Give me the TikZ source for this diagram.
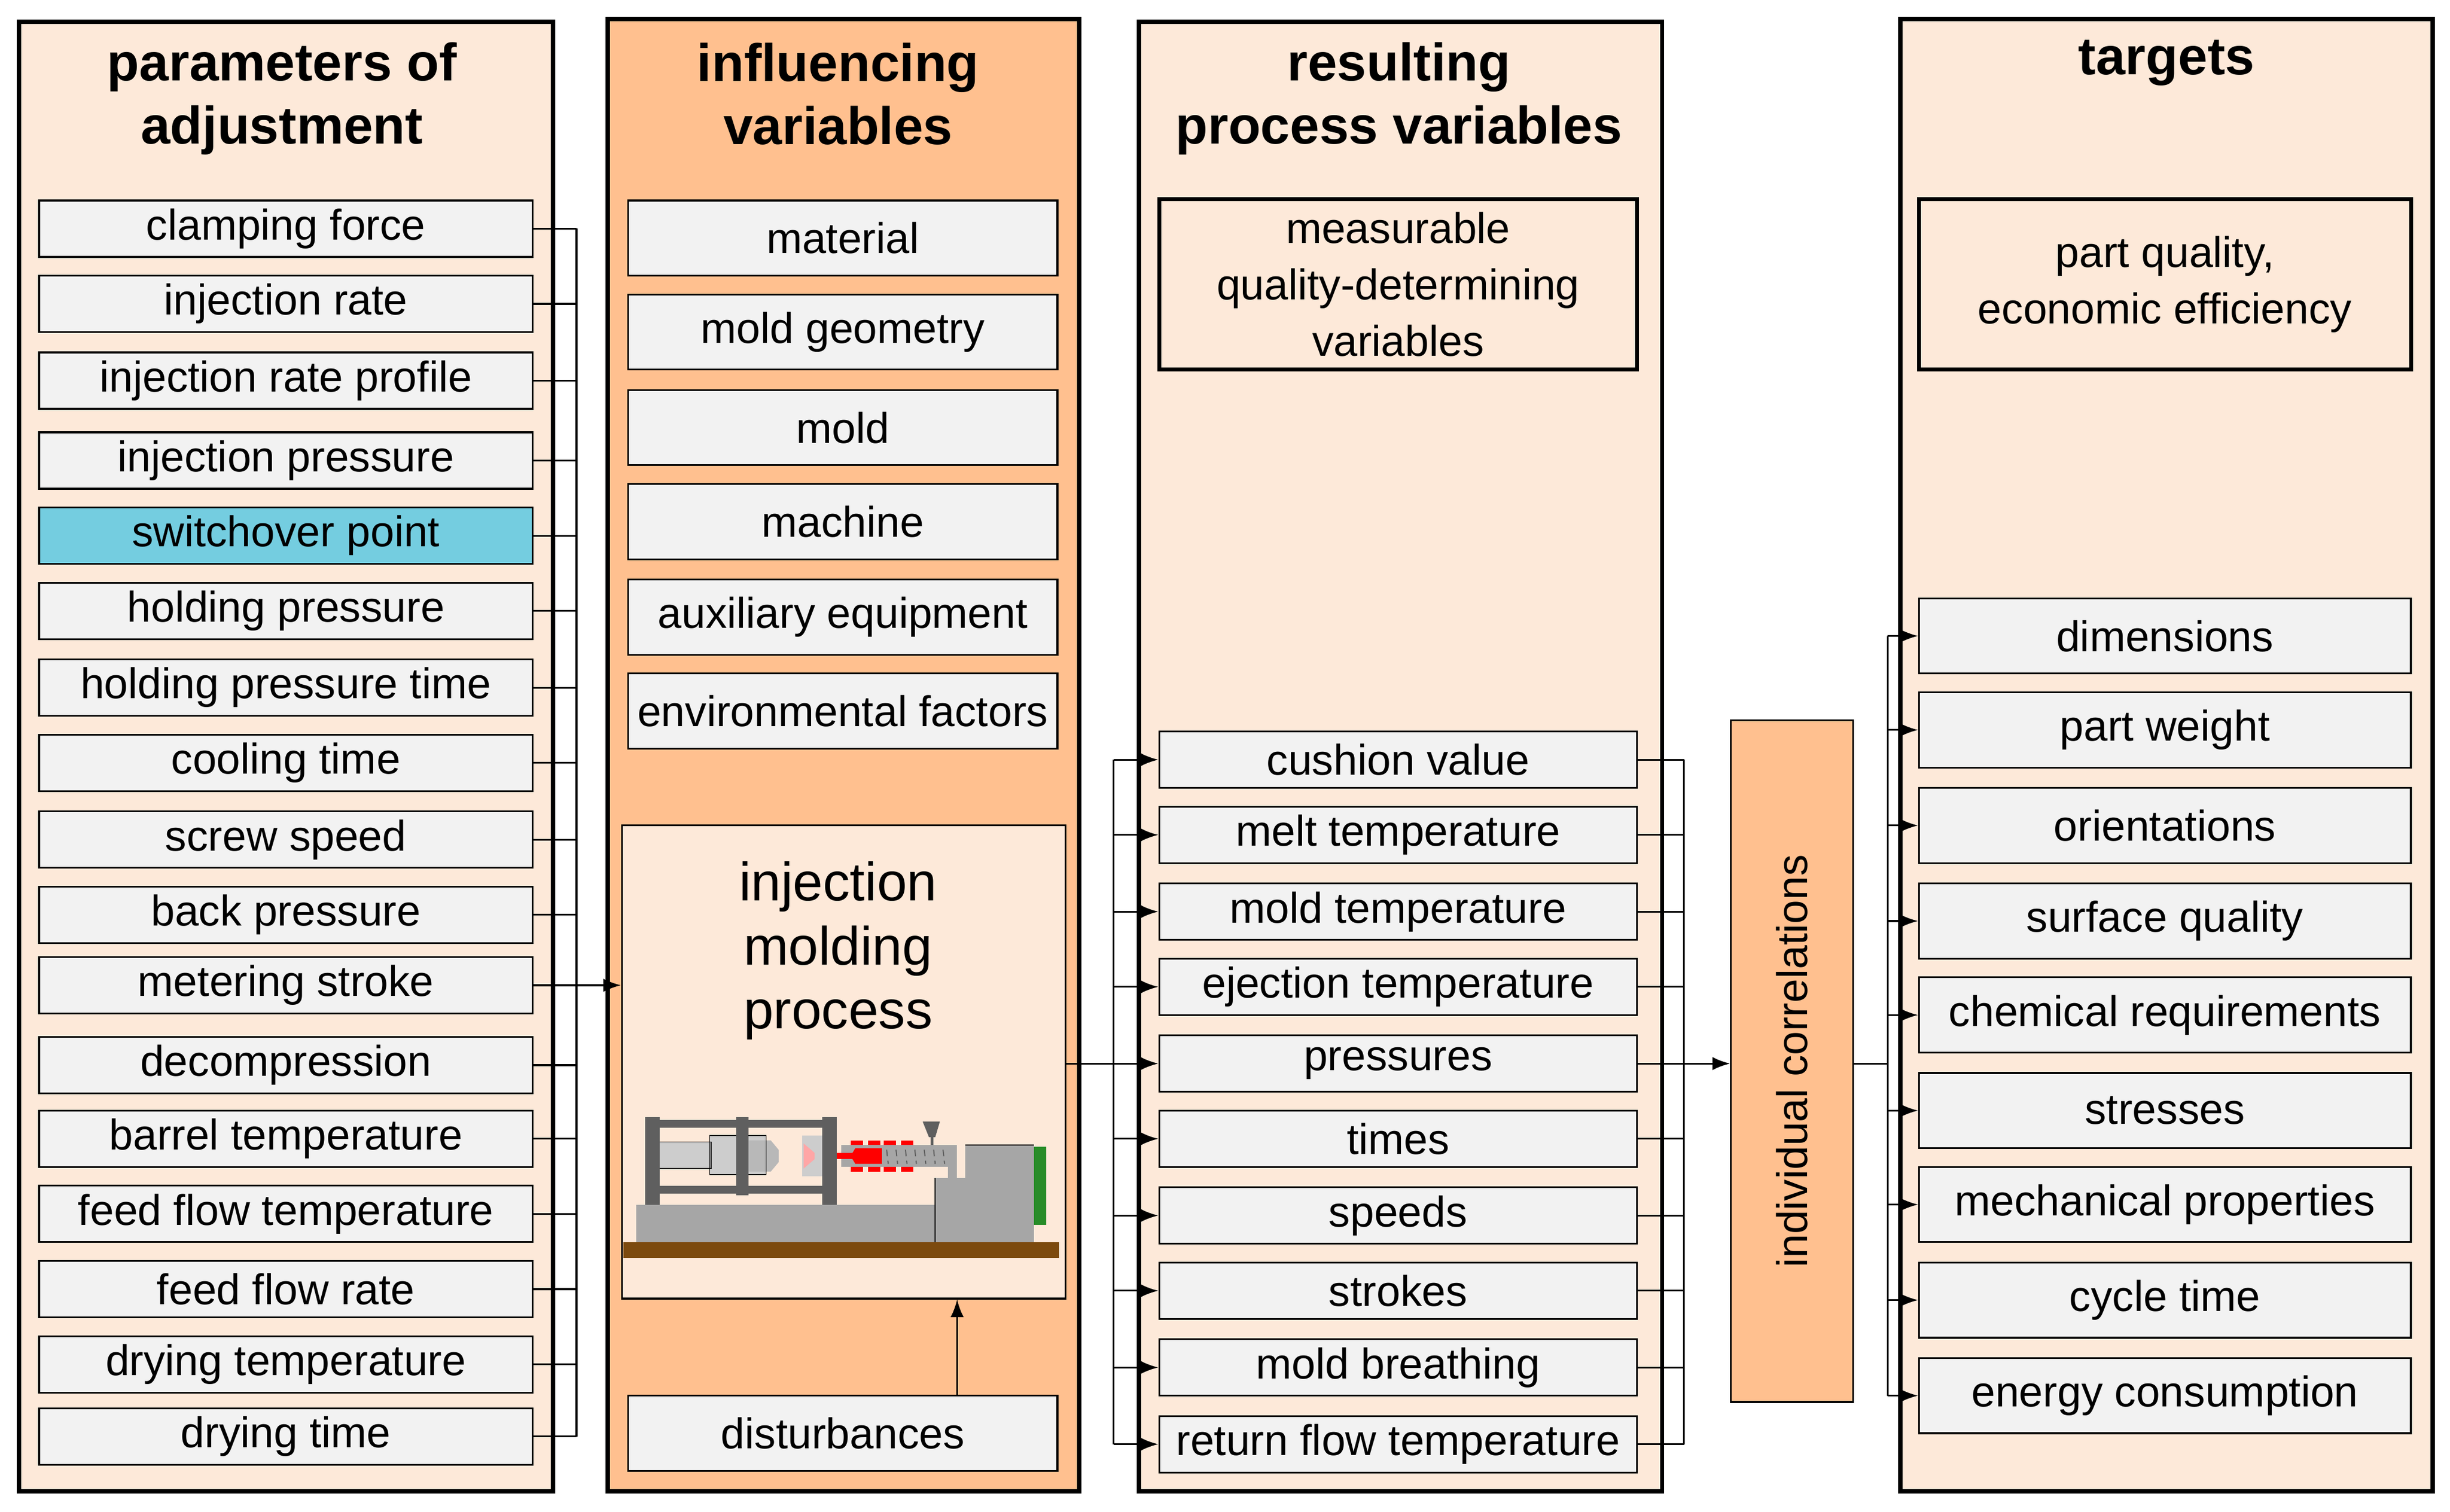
\documentclass[tikz,border=0pt]{standalone}
\usepackage{fontspec}
\setmainfont{Liberation Sans}
\usetikzlibrary{positioning,arrows.meta}
\definecolor{panellight}{RGB}{253,233,217}
\definecolor{panelorange}{RGB}{255,192,143}
\definecolor{boxgray}{RGB}{242,242,242}
\definecolor{switchcyan}{RGB}{116,205,224}
\definecolor{darkmetal}{RGB}{95,95,95}
\definecolor{metal}{RGB}{166,166,166}
\definecolor{lightmetal}{RGB}{205,205,205}
\definecolor{basebrown}{RGB}{124,74,14}
\definecolor{panelgreen}{RGB}{40,140,40}
\tikzset{
  panel/.style={line width=2pt, draw=black},
  title/.style={font=\fontsize{24}{28.5}\selectfont\bfseries, align=center},
  item/.style={draw=black, line width=0.8pt, fill=boxgray, inner sep=0pt,
    font=\fontsize{19.5}{22}\selectfont},
  param/.style={item, minimum width=7.875cm, minimum height=0.9cm},
  influence/.style={item, minimum width=6.85cm, minimum height=1.2cm},
  result/.style={item, minimum width=7.625cm, minimum height=0.9cm},
  target/.style={item, minimum width=7.85cm, minimum height=1.2cm},
  bigbox/.style={draw=black, line width=1.8pt, fill=panellight, inner sep=0pt,
    align=center, font=\fontsize{19.5}{25.5}\selectfont},
  conn/.style={line width=0.8pt},
  arr/.style={line width=0.8pt, -{Latex[length=8pt,width=6pt]}},
}
\begin{document}
\begin{tikzpicture}[x=0.025cm, y=-0.025cm]
  \useasboundingbox (0,0) rectangle (1564,965);

  % panels
  \draw [panel, fill=panellight] (12,14) rectangle (353,952);
  \draw [panel, fill=panelorange] (388,12) rectangle (689,952);
  \draw [panel, fill=panellight] (727,14) rectangle (1061,952);
  \draw [panel, fill=panellight] (1213,12) rectangle (1553,952);

  \node [title] (t1) at (180,63) {parameters of\\adjustment};
  \node [title] (t2) at (535,60) {influencing\\variables};
  \node [title] (t3) at (893,63) {resulting\\process variables};
  \node [title] (t4) at (1383,40) {targets};

  % parameters of adjustment
  \foreach \i/\y/\txt in {1/146/clamping force, 2/194/injection rate,
      3/243/injection rate profile, 4/294/injection pressure,
      5/342/switchover point, 6/390/holding pressure,
      7/439/holding pressure time, 8/487/cooling time, 9/536/screw speed,
      10/584/back pressure, 11/629/metering stroke, 12/680/decompression,
      13/727/barrel temperature, 14/775/feed flow temperature,
      15/823/feed flow rate, 16/871/drying temperature, 17/917/drying time}
    \node [param] (p\i) at (182.5,\y) {\txt};
  \node [param, fill=switchcyan] at (p5) {switchover point};

  \coordinate (busL) at (368,0);
  \foreach \i in {1,...,17}
    \draw [conn] (p\i.east) -- (p\i.east -| busL);
  \draw [conn] (p1.east -| busL) -- (p17.east -| busL);

  % influencing variables
  \foreach \i/\y/\txt in {1/152/material, 2/212/mold geometry, 3/273/mold,
      4/333/machine, 5/394/auxiliary equipment, 6/454/environmental factors}
    \node [influence] (v\i) at (538,\y) {\txt};
  \node [draw=black, line width=0.8pt, fill=panellight, minimum width=7.075cm,
    minimum height=7.55cm, inner sep=0pt] (proc) at (538.5,678) {};
  \node [align=center, font=\fontsize{24.5}{29}\selectfont] (proctxt) at (535,607)
    {injection\\molding\\process};
  \node [influence] (dist) at (538,915) {disturbances};
  \draw [arr] (dist.north -| 611,0) -- (proc.south -| 611,0);
  \draw [arr] (p11.east -| busL) -- (proc.west |- p11.east);

  % machine
  \fill [basebrown] (398,793) rectangle (676,803);
  \fill [metal] (406,769) rectangle (597,793);
  \fill [metal] (597,752) rectangle (660,793);
  \fill [metal] (616,731) rectangle (660,752);
  \draw [line width=0.4pt] (597,752) -- (597,793) (616,731) -- (660,731);
  \fill [panelgreen] (660,732) rectangle (668,782);
  \fill [metal] (537,731) rectangle (611,745);
  \fill [metal] (605,731) rectangle (611,752);
  \fill [darkmetal] (589,716) -- (600,716) -- (597,726) -- (593,726) -- cycle;
  \fill [darkmetal] (594,726) rectangle (596,731);
  \foreach \x in {543,554,564,575} {
    \fill [red] (\x,728) rectangle ++(8,3);
    \fill [red] (\x,745) rectangle ++(8,3);
  }
  \fill [red] (534,736) rectangle (546,740);
  \fill [red] (546,733) -- (563,733) -- (563,743) -- (546,743) -- (543,738) -- cycle;
  \foreach \x in {566,572,...,602}
    \draw [darkmetal, densely dashed, line width=0.5pt] (\x,734) -- (\x+1,743);
  \fill [lightmetal] (512,725) rectangle (525,751);
  \fill [red!35] (513,730) -- (520,736) -- (520,740) -- (513,746) -- cycle;
  \fill [lightmetal] (453,725) rectangle (489,750);
  \fill [metal!80] (478,728) -- (492,728) -- (497,734) -- (497,742) -- (492,748) -- (478,748) -- cycle;
  \fill [lightmetal] (421,729) rectangle (454,746);
  \draw [line width=0.4pt] (421,729) rectangle (454,746) (453,725) rectangle (489,750);
  \fill [darkmetal] (421,715) rectangle (525,720);
  \fill [darkmetal] (421,757) rectangle (525,762);
  \fill [darkmetal] (412,713) rectangle (421,769);
  \fill [darkmetal] (470,713) rectangle (478,763);
  \fill [darkmetal] (525,713) rectangle (534,769);

  % resulting process variables
  \node [bigbox, minimum width=7.625cm, minimum height=2.725cm] (meas) at (892.5,181.5)
    {measurable\\quality-determining\\variables};
  \foreach \i/\y/\txt in {1/485/cushion value, 2/533/melt temperature,
      3/582/mold temperature, 4/630/ejection temperature, 5/679/pressures,
      6/727/times, 7/776/speeds, 8/824/strokes, 9/873/mold breathing,
      10/922/return flow temperature}
    \node [result] (r\i) at (892.5,\y) {\txt};
  \coordinate (busM) at (711,0);
  \coordinate (busR) at (1075,0);
  \foreach \i in {1,...,10} {
    \draw [arr] (r\i.west -| busM) -- (r\i.west);
    \draw [conn] (r\i.east) -- (r\i.east -| busR);
  }
  \draw [conn] (r1.west -| busM) -- (r10.west -| busM);
  \draw [conn] (r1.east -| busR) -- (r10.east -| busR);
  \draw [conn] (proc.east |- r5.west) -- (r5.west -| busM);

  % individual correlations
  \node [draw=black, line width=0.8pt, fill=panelorange, rotate=90,
    minimum width=10.875cm, minimum height=1.95cm, inner sep=0pt,
    font=\fontsize{19.5}{22}\selectfont] (corr) at (1144,677.5) {individual correlations};
  \draw [arr] (r5.east -| busR) -- (corr.north |- r5.east);

  % targets
  \node [bigbox, minimum width=7.85cm, minimum height=2.725cm] (qual) at (1382,181.5)
    {part quality,\\economic efficiency};
  \foreach \i/\y/\txt in {1/406/dimensions, 2/466/part weight, 3/527/orientations,
      4/588/surface quality, 5/648/chemical requirements, 6/709/stresses,
      7/769/mechanical properties, 8/830/cycle time, 9/891/energy consumption}
    \node [target] (g\i) at (1382,\y) {\txt};
  \coordinate (busT) at (1205,0);
  \foreach \i in {1,...,9}
    \draw [arr] (g\i.west -| busT) -- (g\i.west);
  \draw [conn] (g1.west -| busT) -- (g9.west -| busT);
  \draw [conn] (corr.south |- r5.east) -- (r5.east -| busT);
\end{tikzpicture}
\end{document}
